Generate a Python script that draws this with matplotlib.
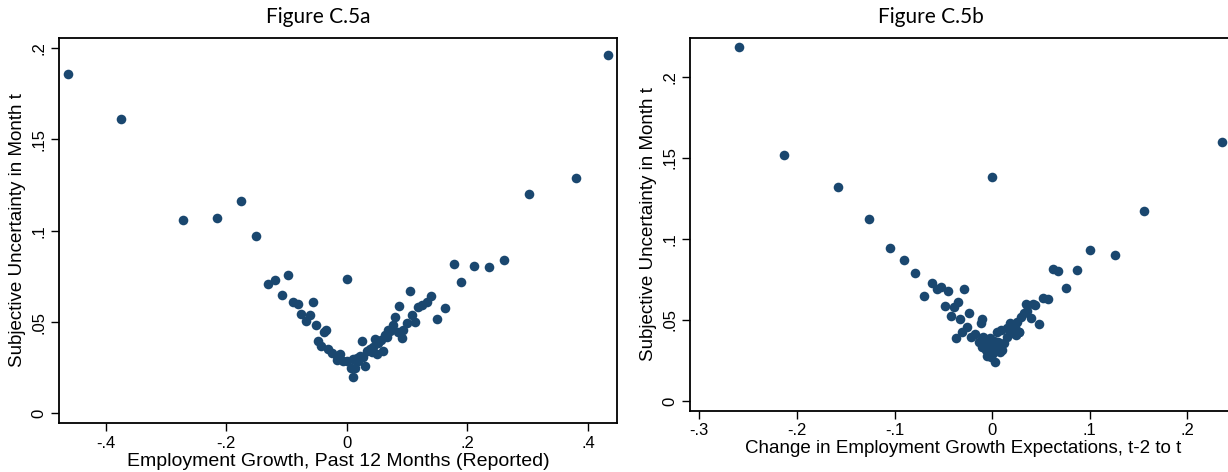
import numpy as np
import matplotlib.pyplot as plt

# Figure C.5a: employment growth (past 12 months) vs subjective uncertainty
growth_a = [-0.462, -0.374, -0.272, -0.215, -0.175, -0.150,
            -0.1316, -0.1195, -0.0974, -0.108, -0.089, -0.081, -0.0564, -0.076,
            -0.062, -0.0686, -0.0515, -0.0354, -0.0387, -0.0476, -0.0437, -0.031,
            -0.0254, -0.017, -0.0116, -0.016, -0.0072, 0.0, 0.0061, 0.0094,
            0.0138, 0.0105, 0.016, 0.0243, 0.0216, 0.0293, 0.0326, 0.038,
            0.0437, 0.047, 0.0503, 0.057, 0.0603, 0.063, 0.0686, 0.0769,
            0.0797, 0.0868, 0.0852, 0.0907, 0.0935, 0.099, 0.1046, 0.1085,
            0.113, 0.1184, 0.124, 0.1323, 0.140, 0.150, 0.163, 0.178,
            0.1887, 0.211, 0.236, 0.261, 0.302, 0.380, 0.4335,
            0.0, 0.018, 0.027, 0.041, 0.052, 0.066, 0.072]
unc_a = [0.186, 0.161, 0.106, 0.107, 0.116, 0.097,
         0.0706, 0.0731, 0.0759, 0.0648, 0.0608, 0.0597, 0.061, 0.0544,
         0.0537, 0.0504, 0.0484, 0.0456, 0.0445, 0.0396, 0.037, 0.0354,
         0.0332, 0.0314, 0.0323, 0.0292, 0.0288, 0.0737, 0.025, 0.0201,
         0.0248, 0.0298, 0.0303, 0.0396, 0.0314, 0.0261, 0.0343, 0.0351,
         0.0365, 0.0407, 0.0325, 0.0401, 0.0341, 0.0429, 0.0456, 0.0484,
         0.0529, 0.0589, 0.0447, 0.0411, 0.0456, 0.0496, 0.067, 0.0537,
         0.0502, 0.0584, 0.0593, 0.0608, 0.0644, 0.0515, 0.0577, 0.0817,
         0.0719, 0.0808, 0.0803, 0.084, 0.120, 0.129, 0.196,
         0.0285, 0.0285, 0.031, 0.0335, 0.0385, 0.042, 0.045]

# Figure C.5b: change in employment growth expectations vs subjective uncertainty
change_b = [-0.259, -0.213, -0.158, -0.126, -0.105, -0.090, -0.079, -0.062,
            -0.0569, -0.0525, -0.0456, -0.0286, -0.0699, -0.0484, -0.0391, -0.035,
            -0.0425, -0.033, -0.0235, -0.0108, -0.0118, -0.0371, -0.031, -0.0255,
            -0.022, -0.0176, -0.0132, -0.0091, -0.0108, -0.0064, -0.005, -0.0023,
            -0.0005, 0.0011, 0.0026, -0.0015, -0.0056, 0.0039, 0.0063, 0.0052,
            0.0087, 0.0097, 0.0121, 0.0149, 0.0155, 0.0182, 0.021, 0.0234,
            0.0278, 0.0257, 0.0295, 0.0326, 0.0346, 0.0353, 0.0394, 0.0421,
            0.0442, 0.0483, 0.0524, 0.0575, 0.062, 0.0677, 0.0753, 0.0872,
            0.1007, 0.126, 0.156, 0.2355, 0.0, 0.027, 0.024, -0.003, 0.002, 0.008]
unc_b = [0.2186, 0.152, 0.132, 0.112, 0.0945, 0.0873, 0.0788, 0.0726,
         0.0689, 0.0702, 0.0677, 0.0693, 0.0648, 0.0586, 0.0582, 0.0609,
         0.0525, 0.0506, 0.0541, 0.0504, 0.048, 0.0387, 0.0424, 0.0455,
         0.0393, 0.0413, 0.0366, 0.0393, 0.0335, 0.0315, 0.0356, 0.0387,
         0.0325, 0.0294, 0.0243, 0.0273, 0.0278, 0.0335, 0.0366, 0.0428,
         0.0438, 0.0315, 0.0356, 0.0393, 0.0449, 0.048, 0.0418, 0.0455,
         0.0428, 0.0489, 0.0517, 0.0541, 0.0599, 0.0557, 0.051, 0.0597,
         0.0592, 0.0475, 0.0636, 0.0628, 0.0815, 0.0804, 0.0695, 0.0807,
         0.0931, 0.0898, 0.117, 0.160, 0.138, 0.0425, 0.0405, 0.0345, 0.037, 0.030]

navy = '#1a476f'
plt.rcParams['font.family'] = ['Liberation Sans', 'DejaVu Sans']

fig = plt.figure(figsize=(12.28, 4.72), dpi=100)

ax1 = fig.add_axes([59/1228, 1-423/472, (617-59)/1228, (423-38)/472])
ax2 = fig.add_axes([689.6/1228, 1-410.7/472, 0.4451, (410.7-38)/472])

ax1.scatter(growth_a, unc_a, s=48, color=navy, linewidths=0, zorder=3)
ax1.set_xlim(-0.4775, 0.448)
ax1.set_ylim(-0.0053, 0.2055)
ax1.set_xticks([-0.4, -0.2, 0, 0.2, 0.4])
ax1.set_xticklabels(['-.4', '-.2', '0', '.2', '.4'])
ax1.set_yticks([0, 0.05, 0.1, 0.15, 0.2])
ax1.set_yticklabels(['0', '.05', '.1', '.15', '.2'], rotation=90, va='center')
ax1.set_xlabel('Employment Growth, Past 12 Months (Reported)', fontsize=14, labelpad=2)
ax1.set_ylabel('Subjective Uncertainty in Month t', fontsize=13.5, labelpad=4)

ax2.scatter(change_b, unc_b, s=48, color=navy, linewidths=0, zorder=3)
ax2.set_xlim(-0.31, 0.25)
ax2.set_ylim(-0.006, 0.224)
ax2.set_xticks([-0.3, -0.2, -0.1, 0, 0.1, 0.2])
ax2.set_xticklabels(['-.3', '-.2', '-.1', '0', '.1', '.2'])
ax2.set_yticks([0, 0.05, 0.1, 0.15, 0.2])
ax2.set_yticklabels(['0', '.05', '.1', '.15', '.2'], rotation=90, va='center')
ax2.set_xlabel('Change in Employment Growth Expectations, t-2 to t', fontsize=13.5, labelpad=1)
ax2.set_ylabel('Subjective Uncertainty in Month t', fontsize=13.5, labelpad=4)

for ax in (ax1, ax2):
    ax.tick_params(direction='out', length=6, width=1, labelsize=12, pad=3)
    for sp in ax.spines.values():
        sp.set_linewidth(1.3)

fig.text(318/1228, 1-17/472, 'Figure C.5a', ha='center', va='center', fontsize=15, family=['Lato', 'DejaVu Sans'])
fig.text(931/1228, 1-17/472, 'Figure C.5b', ha='center', va='center', fontsize=15, family=['Lato', 'DejaVu Sans'])

plt.savefig('out.png', dpi=100)
